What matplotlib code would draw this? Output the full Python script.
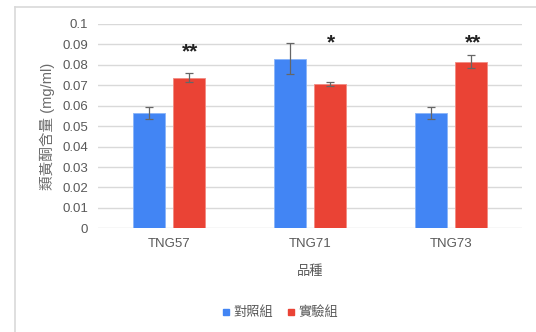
import matplotlib
matplotlib.use("Agg")
import matplotlib.pyplot as plt
from matplotlib.lines import Line2D
import numpy as np

plt.rcParams['font.family'] = ['Liberation Sans', 'Noto Sans CJK TC', 'DejaVu Sans']

categories = ["TNG57", "TNG71", "TNG73"]
series_names = ["對照組", "實驗組"]
control = [0.0564, 0.0830, 0.0564]
control_err = [0.0027, 0.0074, 0.0030]
treated = [0.0737, 0.0706, 0.0815]
treated_err = [0.0023, 0.0008, 0.0032]
marks = ["**", "*", "**"]
mark_y = [0.0863, 0.0908, 0.0908]
yticks = [0, 0.01, 0.02, 0.03, 0.04, 0.05, 0.06, 0.07, 0.08, 0.09, 0.1]
ytick_labels = ["0", "0.01", "0.02", "0.03", "0.04", "0.05", "0.06", "0.07", "0.08", "0.09", "0.1"]

blue = "#4285F4"
red = "#EA4335"
grid_c = "#D9D9D9"
text_c = "#595959"

W, H = 536, 332
fig = plt.figure(figsize=(W / 100, H / 100), dpi=100)
ax = fig.add_axes([98 / W, 1 - 228.4 / H, (522 - 98) / W, (228.4 - 23.8) / H])

x = np.arange(len(categories))
bw = 0.2265
off = 0.1415
ax.bar(x - off, control, bw, color=blue, edgecolor="#8AB4F8", linewidth=0.6, zorder=3)
ax.bar(x + off, treated, bw, color=red, edgecolor="#F28B82", linewidth=0.6, zorder=3)
ax.errorbar(x - off, control, yerr=control_err, fmt="none", ecolor="#666666",
            elinewidth=0.9, capsize=2.6, capthick=0.9, zorder=4)
ax.errorbar(x + off, treated, yerr=treated_err, fmt="none", ecolor="#666666",
            elinewidth=0.9, capsize=2.6, capthick=0.9, zorder=4)

for xi, m, my in zip(x + off, marks, mark_y):
    ax.text(xi + 0.01, my, m, ha="center", va="center", fontsize=15, fontweight="bold",
            color="#222222", zorder=5)

ax.set_xlim(-0.5, 2.5)
ax.set_ylim(0, 0.1)
ax.set_yticks(yticks)
ax.set_yticklabels(ytick_labels)
ax.set_xticks(x)
ax.set_xticklabels(categories)
ax.tick_params(axis="both", length=0, labelsize=9.5, colors=text_c)
ax.tick_params(axis="y", pad=7)
ax.tick_params(axis="x", pad=7)
ax.grid(axis="y", color=grid_c, linewidth=1.0, zorder=0)
for s in ax.spines.values():
    s.set_visible(False)

ax.set_xlabel("品種", fontsize=9.5, color=text_c, labelpad=11)
ax.set_ylabel("類黃酮含量 (mg/ml)", fontsize=10.5, color="#6b6b6b", labelpad=5)

# outer chart frame
fig.add_artist(Line2D([15 / W, 1.0], [1 - 7 / H, 1 - 7 / H], color=grid_c, linewidth=1.2))
fig.add_artist(Line2D([15 / W, 15 / W], [0, 1 - 7 / H], color=grid_c, linewidth=1.2))

handles = [Line2D([], [], marker="s", linestyle="none", color=blue, markersize=5),
           Line2D([], [], marker="s", linestyle="none", color=red, markersize=5)]
fig.legend(handles, series_names, loc="center", bbox_to_anchor=(280 / W, 1 - 313 / H),
           ncol=2, frameon=False, fontsize=9.5, handlelength=0.6, handletextpad=0.3,
           columnspacing=1.0, labelcolor=text_c)

fig.savefig("out.png", dpi=100, facecolor="white")
